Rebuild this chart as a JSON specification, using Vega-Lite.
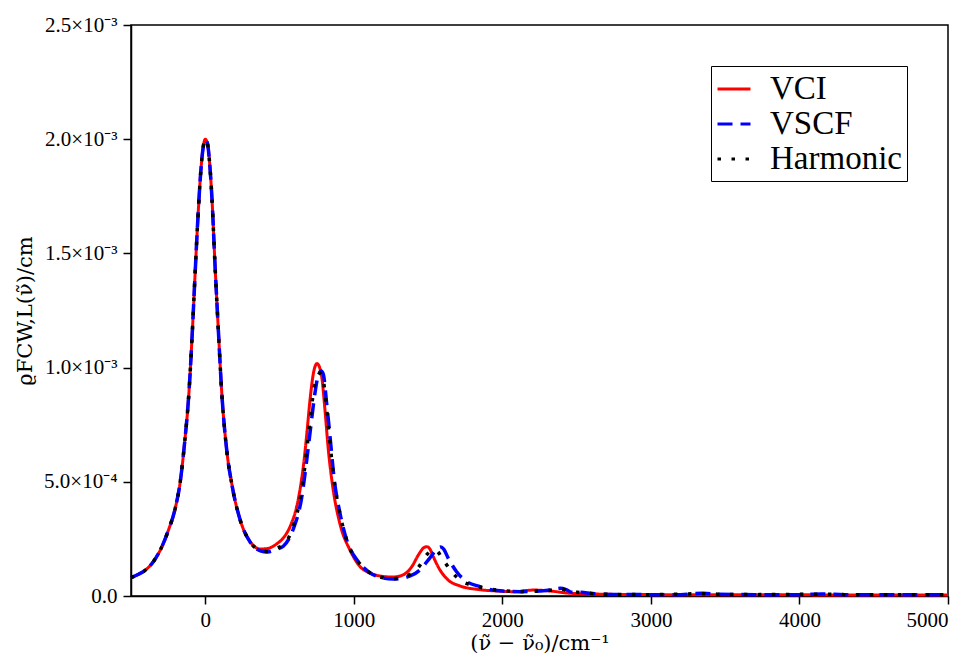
{
  "$schema": "https://vega.github.io/schema/vega-lite/v6.json",
  "width": 817,
  "height": 571,
  "autosize": "none",
  "padding": {"left": 131, "top": 25, "right": 24, "bottom": 61},
  "background": "white",
  "config": {
    "view": {"stroke": "black", "strokeWidth": 1.5},
    "axis": {
      "grid": false,
      "domainColor": "black",
      "domainWidth": 1.5,
      "tickColor": "black",
      "tickWidth": 1.5,
      "tickSize": 8,
      "labelFont": "Liberation Serif",
      "labelFontSize": 21,
      "labelColor": "black",
      "titleFont": "DejaVu Serif",
      "titleFontSize": 21,
      "titleFontWeight": "normal",
      "titleColor": "black"
    },
    "legend": {
      "labelFont": "Liberation Serif",
      "labelFontSize": 33,
      "labelColor": "black"
    }
  },
  "data": {
    "values": [
      {"s": "VCI", "x": -500, "y": 0.000080},
      {"s": "VCI", "x": -450, "y": 0.000095},
      {"s": "VCI", "x": -400, "y": 0.000115},
      {"s": "VCI", "x": -350, "y": 0.000150},
      {"s": "VCI", "x": -300, "y": 0.000205},
      {"s": "VCI", "x": -250, "y": 0.000285},
      {"s": "VCI", "x": -200, "y": 0.000390},
      {"s": "VCI", "x": -170, "y": 0.000493},
      {"s": "VCI", "x": -140, "y": 0.000665},
      {"s": "VCI", "x": -110, "y": 0.000890},
      {"s": "VCI", "x": -90, "y": 0.001120},
      {"s": "VCI", "x": -70, "y": 0.001390},
      {"s": "VCI", "x": -50, "y": 0.001650},
      {"s": "VCI", "x": -30, "y": 0.001860},
      {"s": "VCI", "x": -15, "y": 0.001960},
      {"s": "VCI", "x": 0, "y": 0.002000},
      {"s": "VCI", "x": 15, "y": 0.001980},
      {"s": "VCI", "x": 30, "y": 0.001890},
      {"s": "VCI", "x": 45, "y": 0.001740},
      {"s": "VCI", "x": 65, "y": 0.001457},
      {"s": "VCI", "x": 90, "y": 0.001140},
      {"s": "VCI", "x": 110, "y": 0.000900},
      {"s": "VCI", "x": 145, "y": 0.000635},
      {"s": "VCI", "x": 180, "y": 0.000485},
      {"s": "VCI", "x": 235, "y": 0.000333},
      {"s": "VCI", "x": 300, "y": 0.000240},
      {"s": "VCI", "x": 370, "y": 0.000206},
      {"s": "VCI", "x": 420, "y": 0.000208},
      {"s": "VCI", "x": 480, "y": 0.000228},
      {"s": "VCI", "x": 530, "y": 0.000258},
      {"s": "VCI", "x": 575, "y": 0.000310},
      {"s": "VCI", "x": 625, "y": 0.000420},
      {"s": "VCI", "x": 660, "y": 0.000566},
      {"s": "VCI", "x": 685, "y": 0.000720},
      {"s": "VCI", "x": 705, "y": 0.000858},
      {"s": "VCI", "x": 728, "y": 0.000975},
      {"s": "VCI", "x": 752, "y": 0.001018},
      {"s": "VCI", "x": 770, "y": 0.001000},
      {"s": "VCI", "x": 785, "y": 0.000955},
      {"s": "VCI", "x": 805, "y": 0.000820},
      {"s": "VCI", "x": 830, "y": 0.000630},
      {"s": "VCI", "x": 860, "y": 0.000470},
      {"s": "VCI", "x": 905, "y": 0.000320},
      {"s": "VCI", "x": 975, "y": 0.000200},
      {"s": "VCI", "x": 1040, "y": 0.000130},
      {"s": "VCI", "x": 1110, "y": 0.000100},
      {"s": "VCI", "x": 1175, "y": 0.000088},
      {"s": "VCI", "x": 1265, "y": 0.000083},
      {"s": "VCI", "x": 1330, "y": 0.000092},
      {"s": "VCI", "x": 1390, "y": 0.000128},
      {"s": "VCI", "x": 1435, "y": 0.000180},
      {"s": "VCI", "x": 1470, "y": 0.000211},
      {"s": "VCI", "x": 1490, "y": 0.000216},
      {"s": "VCI", "x": 1510, "y": 0.000208},
      {"s": "VCI", "x": 1535, "y": 0.000172},
      {"s": "VCI", "x": 1580, "y": 0.000114},
      {"s": "VCI", "x": 1635, "y": 0.000070},
      {"s": "VCI", "x": 1715, "y": 0.000044},
      {"s": "VCI", "x": 1830, "y": 0.000029},
      {"s": "VCI", "x": 1960, "y": 0.000022},
      {"s": "VCI", "x": 2075, "y": 0.000019},
      {"s": "VCI", "x": 2210, "y": 0.000026},
      {"s": "VCI", "x": 2320, "y": 0.000022},
      {"s": "VCI", "x": 2455, "y": 0.000012},
      {"s": "VCI", "x": 2600, "y": 0.000009},
      {"s": "VCI", "x": 2750, "y": 0.000007},
      {"s": "VCI", "x": 3000, "y": 0.000006},
      {"s": "VCI", "x": 3500, "y": 0.000005},
      {"s": "VCI", "x": 4000, "y": 0.000005},
      {"s": "VCI", "x": 4500, "y": 0.000004},
      {"s": "VCI", "x": 5000, "y": 0.000004},

      {"s": "VSCF", "x": -500, "y": 0.000080},
      {"s": "VSCF", "x": -450, "y": 0.000095},
      {"s": "VSCF", "x": -400, "y": 0.000115},
      {"s": "VSCF", "x": -350, "y": 0.000150},
      {"s": "VSCF", "x": -300, "y": 0.000205},
      {"s": "VSCF", "x": -250, "y": 0.000285},
      {"s": "VSCF", "x": -200, "y": 0.000390},
      {"s": "VSCF", "x": -170, "y": 0.000493},
      {"s": "VSCF", "x": -140, "y": 0.000665},
      {"s": "VSCF", "x": -110, "y": 0.000890},
      {"s": "VSCF", "x": -90, "y": 0.001120},
      {"s": "VSCF", "x": -70, "y": 0.001390},
      {"s": "VSCF", "x": -50, "y": 0.001650},
      {"s": "VSCF", "x": -30, "y": 0.001860},
      {"s": "VSCF", "x": -15, "y": 0.001960},
      {"s": "VSCF", "x": 0, "y": 0.002000},
      {"s": "VSCF", "x": 15, "y": 0.001980},
      {"s": "VSCF", "x": 30, "y": 0.001890},
      {"s": "VSCF", "x": 45, "y": 0.001740},
      {"s": "VSCF", "x": 65, "y": 0.001457},
      {"s": "VSCF", "x": 90, "y": 0.001140},
      {"s": "VSCF", "x": 110, "y": 0.000900},
      {"s": "VSCF", "x": 145, "y": 0.000635},
      {"s": "VSCF", "x": 180, "y": 0.000485},
      {"s": "VSCF", "x": 235, "y": 0.000333},
      {"s": "VSCF", "x": 300, "y": 0.000238},
      {"s": "VSCF", "x": 370, "y": 0.000198},
      {"s": "VSCF", "x": 420, "y": 0.000193},
      {"s": "VSCF", "x": 480, "y": 0.000205},
      {"s": "VSCF", "x": 525, "y": 0.000218},
      {"s": "VSCF", "x": 590, "y": 0.000289},
      {"s": "VSCF", "x": 650, "y": 0.000435},
      {"s": "VSCF", "x": 683, "y": 0.000595},
      {"s": "VSCF", "x": 710, "y": 0.000741},
      {"s": "VSCF", "x": 738, "y": 0.000887},
      {"s": "VSCF", "x": 760, "y": 0.000965},
      {"s": "VSCF", "x": 780, "y": 0.000985},
      {"s": "VSCF", "x": 795, "y": 0.000970},
      {"s": "VSCF", "x": 817, "y": 0.000844},
      {"s": "VSCF", "x": 840, "y": 0.000697},
      {"s": "VSCF", "x": 866, "y": 0.000522},
      {"s": "VSCF", "x": 907, "y": 0.000362},
      {"s": "VSCF", "x": 952, "y": 0.000245},
      {"s": "VSCF", "x": 1030, "y": 0.000150},
      {"s": "VSCF", "x": 1100, "y": 0.000106},
      {"s": "VSCF", "x": 1175, "y": 0.000082},
      {"s": "VSCF", "x": 1265, "y": 0.000074},
      {"s": "VSCF", "x": 1380, "y": 0.000088},
      {"s": "VSCF", "x": 1445, "y": 0.000114},
      {"s": "VSCF", "x": 1510, "y": 0.000165},
      {"s": "VSCF", "x": 1558, "y": 0.000204},
      {"s": "VSCF", "x": 1585, "y": 0.000214},
      {"s": "VSCF", "x": 1605, "y": 0.000205},
      {"s": "VSCF", "x": 1636, "y": 0.000165},
      {"s": "VSCF", "x": 1692, "y": 0.000106},
      {"s": "VSCF", "x": 1760, "y": 0.000063},
      {"s": "VSCF", "x": 1850, "y": 0.000041},
      {"s": "VSCF", "x": 1960, "y": 0.000024},
      {"s": "VSCF", "x": 2120, "y": 0.000019},
      {"s": "VSCF", "x": 2250, "y": 0.000022},
      {"s": "VSCF", "x": 2320, "y": 0.000026},
      {"s": "VSCF", "x": 2390, "y": 0.000034},
      {"s": "VSCF", "x": 2430, "y": 0.000028},
      {"s": "VSCF", "x": 2470, "y": 0.000016},
      {"s": "VSCF", "x": 2530, "y": 0.000016},
      {"s": "VSCF", "x": 2600, "y": 0.000011},
      {"s": "VSCF", "x": 2750, "y": 0.000007},
      {"s": "VSCF", "x": 3000, "y": 0.000006},
      {"s": "VSCF", "x": 3200, "y": 0.000006},
      {"s": "VSCF", "x": 3350, "y": 0.000012},
      {"s": "VSCF", "x": 3450, "y": 0.000008},
      {"s": "VSCF", "x": 3700, "y": 0.000006},
      {"s": "VSCF", "x": 4000, "y": 0.000006},
      {"s": "VSCF", "x": 4150, "y": 0.000009},
      {"s": "VSCF", "x": 4300, "y": 0.000006},
      {"s": "VSCF", "x": 4600, "y": 0.000005},
      {"s": "VSCF", "x": 5000, "y": 0.000005},

      {"s": "Harmonic", "x": -500, "y": 0.000080},
      {"s": "Harmonic", "x": -450, "y": 0.000095},
      {"s": "Harmonic", "x": -400, "y": 0.000115},
      {"s": "Harmonic", "x": -350, "y": 0.000150},
      {"s": "Harmonic", "x": -300, "y": 0.000205},
      {"s": "Harmonic", "x": -250, "y": 0.000285},
      {"s": "Harmonic", "x": -200, "y": 0.000390},
      {"s": "Harmonic", "x": -170, "y": 0.000493},
      {"s": "Harmonic", "x": -140, "y": 0.000665},
      {"s": "Harmonic", "x": -110, "y": 0.000890},
      {"s": "Harmonic", "x": -90, "y": 0.001120},
      {"s": "Harmonic", "x": -70, "y": 0.001390},
      {"s": "Harmonic", "x": -50, "y": 0.001650},
      {"s": "Harmonic", "x": -30, "y": 0.001860},
      {"s": "Harmonic", "x": -15, "y": 0.001960},
      {"s": "Harmonic", "x": 0, "y": 0.002000},
      {"s": "Harmonic", "x": 15, "y": 0.001980},
      {"s": "Harmonic", "x": 30, "y": 0.001890},
      {"s": "Harmonic", "x": 45, "y": 0.001740},
      {"s": "Harmonic", "x": 65, "y": 0.001457},
      {"s": "Harmonic", "x": 90, "y": 0.001140},
      {"s": "Harmonic", "x": 110, "y": 0.000900},
      {"s": "Harmonic", "x": 145, "y": 0.000635},
      {"s": "Harmonic", "x": 180, "y": 0.000485},
      {"s": "Harmonic", "x": 235, "y": 0.000333},
      {"s": "Harmonic", "x": 300, "y": 0.000239},
      {"s": "Harmonic", "x": 370, "y": 0.000200},
      {"s": "Harmonic", "x": 420, "y": 0.000195},
      {"s": "Harmonic", "x": 480, "y": 0.000210},
      {"s": "Harmonic", "x": 525, "y": 0.000224},
      {"s": "Harmonic", "x": 590, "y": 0.000300},
      {"s": "Harmonic", "x": 645, "y": 0.000450},
      {"s": "Harmonic", "x": 680, "y": 0.000620},
      {"s": "Harmonic", "x": 705, "y": 0.000770},
      {"s": "Harmonic", "x": 730, "y": 0.000900},
      {"s": "Harmonic", "x": 755, "y": 0.000965},
      {"s": "Harmonic", "x": 772, "y": 0.000975},
      {"s": "Harmonic", "x": 790, "y": 0.000960},
      {"s": "Harmonic", "x": 812, "y": 0.000850},
      {"s": "Harmonic", "x": 835, "y": 0.000700},
      {"s": "Harmonic", "x": 862, "y": 0.000530},
      {"s": "Harmonic", "x": 905, "y": 0.000365},
      {"s": "Harmonic", "x": 950, "y": 0.000248},
      {"s": "Harmonic", "x": 1030, "y": 0.000150},
      {"s": "Harmonic", "x": 1100, "y": 0.000105},
      {"s": "Harmonic", "x": 1175, "y": 0.000083},
      {"s": "Harmonic", "x": 1265, "y": 0.000076},
      {"s": "Harmonic", "x": 1380, "y": 0.000095},
      {"s": "Harmonic", "x": 1440, "y": 0.000130},
      {"s": "Harmonic", "x": 1490, "y": 0.000180},
      {"s": "Harmonic", "x": 1530, "y": 0.000200},
      {"s": "Harmonic", "x": 1555, "y": 0.000198},
      {"s": "Harmonic", "x": 1600, "y": 0.000160},
      {"s": "Harmonic", "x": 1660, "y": 0.000105},
      {"s": "Harmonic", "x": 1720, "y": 0.000068},
      {"s": "Harmonic", "x": 1800, "y": 0.000046},
      {"s": "Harmonic", "x": 1900, "y": 0.000032},
      {"s": "Harmonic", "x": 2000, "y": 0.000024},
      {"s": "Harmonic", "x": 2120, "y": 0.000019},
      {"s": "Harmonic", "x": 2250, "y": 0.000022},
      {"s": "Harmonic", "x": 2320, "y": 0.000025},
      {"s": "Harmonic", "x": 2390, "y": 0.000032},
      {"s": "Harmonic", "x": 2450, "y": 0.000020},
      {"s": "Harmonic", "x": 2530, "y": 0.000015},
      {"s": "Harmonic", "x": 2600, "y": 0.000011},
      {"s": "Harmonic", "x": 2750, "y": 0.000007},
      {"s": "Harmonic", "x": 3000, "y": 0.000006},
      {"s": "Harmonic", "x": 3350, "y": 0.000010},
      {"s": "Harmonic", "x": 3450, "y": 0.000008},
      {"s": "Harmonic", "x": 3700, "y": 0.000006},
      {"s": "Harmonic", "x": 4150, "y": 0.000008},
      {"s": "Harmonic", "x": 4300, "y": 0.000006},
      {"s": "Harmonic", "x": 5000, "y": 0.000005}
    ]
  },
  "encoding": {
    "x": {
      "field": "x",
      "type": "quantitative",
      "scale": {"domain": [-500, 5000], "nice": false, "zero": false},
      "axis": {
        "values": [0, 1000, 2000, 3000, 4000, 5000],
        "format": "d",
        "labelPadding": 5,
        "title": "(ν̃ − ν̃₀)/cm⁻¹",
        "titlePadding": 2
      }
    },
    "y": {
      "field": "y",
      "type": "quantitative",
      "scale": {"domain": [0, 0.0025], "nice": false},
      "axis": {
        "values": [0, 0.0005, 0.001, 0.0015, 0.002, 0.0025],
        "labelExpr": "datum.value == 0 ? '0.0' : (datum.value < 0.00099 ? format(datum.value * 10000, '.1f') + '×10⁻⁴' : format(datum.value * 1000, '.1f') + '×10⁻³')",
        "labelPadding": 6,
        "title": "ϱFCW,L(ν̃)/cm",
        "titlePadding": 8
      }
    },
    "color": {
      "field": "s",
      "type": "nominal",
      "scale": {"domain": ["VCI", "VSCF", "Harmonic"], "range": ["#ff0000", "#0000ff", "#000000"]},
      "legend": {
        "title": null,
        "orient": "top-right",
        "offset": 41,
        "strokeColor": "black",
        "fillColor": "white",
        "padding": 5,
        "symbolType": "stroke",
        "symbolSize": 1089,
        "symbolStrokeWidth": 3,
        "labelOffset": 18,
        "rowPadding": -3
      }
    },
    "strokeDash": {
      "field": "s",
      "type": "nominal",
      "scale": {"domain": ["VCI", "VSCF", "Harmonic"], "range": [[1, 0], [15, 8], [3.5, 10.5]]},
      "legend": null
    }
  },
  "layer": [
    {
      "transform": [{"filter": "datum.s == 'VCI'"}],
      "mark": {"type": "line", "interpolate": "monotone", "strokeWidth": 3}
    },
    {
      "transform": [{"filter": "datum.s == 'VSCF'"}],
      "mark": {"type": "line", "interpolate": "monotone", "strokeWidth": 3.5}
    },
    {
      "transform": [{"filter": "datum.s == 'Harmonic'"}],
      "mark": {"type": "line", "interpolate": "monotone", "strokeWidth": 3.5}
    }
  ]
}
